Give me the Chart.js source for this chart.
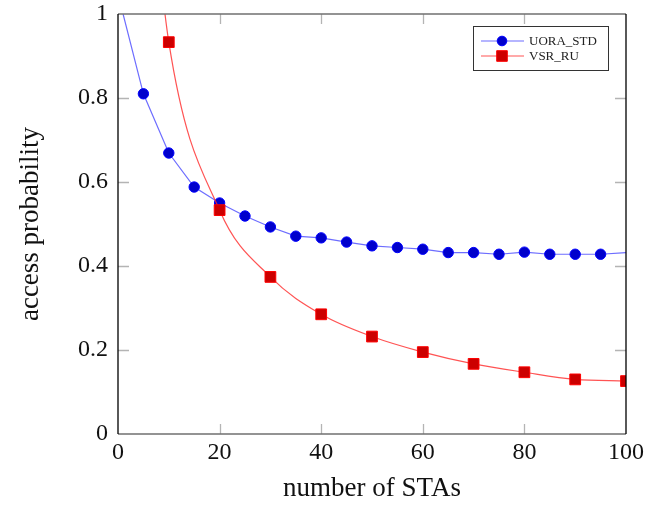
<!DOCTYPE html>
<html>
<head>
<meta charset="utf-8">
<script src="https://cdn.jsdelivr.net/npm/chart.js@4/dist/chart.umd.min.js"></script>
<style>
  html, body { margin: 0; padding: 0; background: #fff; }
  #wrap { width: 658px; height: 507px; }
</style>
</head>
<body>
<div id="wrap"><canvas id="chart" width="658" height="507"></canvas></div>
<script>
// Zugriffswahrscheinlichkeit über der Anzahl der STAs
const uoraX = [1, 5, 10, 15, 20, 25, 30, 35, 40, 45, 50, 55, 60, 65, 70, 75, 80, 85, 90, 95, 100];
const uoraY = [1.0, 0.81, 0.669, 0.588, 0.55, 0.519, 0.493, 0.471, 0.467, 0.457, 0.448, 0.444, 0.44, 0.432, 0.432, 0.428, 0.433, 0.428, 0.428, 0.428, 0.432];
const uoraUnmarked = [1, 100];

const vsrX = [5, 10, 20, 30, 40, 50, 60, 70, 80, 90, 100];
const vsrY = [1.5, 0.933, 0.533, 0.374, 0.285, 0.232, 0.195, 0.167, 0.147, 0.130, 0.126];
const vsrUnmarked = [5];

const xTicks = [0, 20, 40, 60, 80, 100];
const yTicks = [0, 0.2, 0.4, 0.6, 0.8, 1];

const serif = '"Liberation Serif", "Times New Roman", serif';

const toPoints = (xs, ys) => xs.map((x, i) => ({ x, y: ys[i] }));

// Marker nur an simulierten Punkten
const radiusFor = (hidden, r) => c => (hidden.includes(c.raw && c.raw.x) ? 0 : r);

// Ticks nach innen, wie bei pgfplots, plus Achsenrahmen
const frame = {
  id: 'frame',
  afterDatasetsDraw(chart) {
    const { ctx, chartArea: a, scales } = chart;
    ctx.save();
    ctx.strokeStyle = '#b4b4b4';
    ctx.lineWidth = 1.3;
    ctx.beginPath();
    xTicks.forEach(v => {
      if (v === 0 || v === 100) return;
      const px = Math.round(scales.x.getPixelForValue(v)) + 0.5;
      ctx.moveTo(px, a.bottom); ctx.lineTo(px, a.bottom - 10);
      ctx.moveTo(px, a.top); ctx.lineTo(px, a.top + 10);
    });
    yTicks.forEach(v => {
      if (v === 0 || v === 1) return;
      const py = Math.round(scales.y.getPixelForValue(v)) + 0.5;
      ctx.moveTo(a.left, py); ctx.lineTo(a.left + 11, py);
      ctx.moveTo(a.right, py); ctx.lineTo(a.right - 11, py);
    });
    ctx.stroke();

    ctx.lineWidth = 1.3;
    ctx.strokeStyle = '#707070';
    ctx.beginPath();
    ctx.moveTo(a.left, a.top); ctx.lineTo(a.right, a.top);
    ctx.moveTo(a.left, a.bottom); ctx.lineTo(a.right, a.bottom);
    ctx.stroke();
    ctx.strokeStyle = '#000';
    ctx.beginPath();
    ctx.moveTo(a.left, a.top); ctx.lineTo(a.left, a.bottom);
    ctx.moveTo(a.right, a.top); ctx.lineTo(a.right, a.bottom);
    ctx.stroke();
    ctx.restore();
  }
};

// Legende oben rechts im Plotbereich
const boxLegend = {
  id: 'boxLegend',
  afterDraw(chart) {
    const { ctx } = chart;
    const x0 = 473, y0 = 26, w = 135, h = 44;
    ctx.save();
    ctx.fillStyle = '#fff';
    ctx.fillRect(x0, y0, w, h);
    ctx.strokeStyle = '#333';
    ctx.lineWidth = 1;
    ctx.strokeRect(x0 + 0.5, y0 + 0.5, w, h);
    ctx.font = '13px ' + serif;
    ctx.textBaseline = 'middle';
    chart.data.datasets.forEach((ds, i) => {
      const y = y0 + 15 + i * 15;
      ctx.strokeStyle = ds.borderColor;
      ctx.lineWidth = ds.borderWidth;
      ctx.beginPath();
      ctx.moveTo(x0 + 8, y); ctx.lineTo(x0 + 51, y);
      ctx.stroke();
      ctx.fillStyle = ds.pointBackgroundColor;
      ctx.strokeStyle = ds.pointBorderColor;
      ctx.lineWidth = 1;
      ctx.beginPath();
      if (ds.pointStyle === 'circle') {
        ctx.arc(x0 + 29, y, 4.8, 0, Math.PI * 2);
      } else {
        ctx.rect(x0 + 29 - 5.3, y - 5.3, 10.6, 10.6);
      }
      ctx.fill();
      ctx.stroke();
      ctx.fillStyle = '#222';
      ctx.fillText(ds.label, x0 + 56, y + 1);
    });
    ctx.restore();
  }
};

new Chart(document.getElementById('chart'), {
  type: 'line',
  data: {
    datasets: [
      {
        label: 'UORA_STD',
        data: toPoints(uoraX, uoraY),
        borderColor: 'rgba(60,60,255,0.75)',
        borderWidth: 1.2,
        tension: 0,
        pointStyle: 'circle',
        pointRadius: radiusFor(uoraUnmarked, 5.2),
        pointBackgroundColor: '#0000cc',
        pointBorderColor: '#0000ff',
        pointBorderWidth: 1,
        order: 1
      },
      {
        label: 'VSR_RU',
        data: toPoints(vsrX, vsrY),
        borderColor: 'rgba(255,40,40,0.8)',
        borderWidth: 1.2,
        cubicInterpolationMode: 'monotone',
        pointStyle: 'rect',
        pointRadius: radiusFor(vsrUnmarked, 7.6),
        pointBackgroundColor: '#cc0000',
        pointBorderColor: '#ff0000',
        pointBorderWidth: 1,
        order: 0
      }
    ]
  },
  options: {
    responsive: false,
    animation: false,
    layout: { padding: { left: 0, right: 32, top: 14, bottom: 0 } },
    plugins: {
      legend: { display: false },
      tooltip: { enabled: false }
    },
    scales: {
      x: {
        type: 'linear',
        min: 0, max: 100,
        afterBuildTicks: s => { s.ticks = xTicks.map(v => ({ value: v })); },
        afterFit: s => { s.height = 73; s.paddingLeft = 0; s.paddingRight = 0; },
        grid: { display: false, drawTicks: false },
        border: { display: false },
        ticks: { color: '#111', font: { family: serif, size: 24 }, padding: 4, maxRotation: 0 },
        title: {
          display: true, text: 'number of STAs', color: '#111',
          font: { family: serif, size: 27 }, padding: { top: 0, bottom: 2 }
        }
      },
      y: {
        type: 'linear',
        min: 0, max: 1,
        afterBuildTicks: s => { s.ticks = yTicks.map(v => ({ value: v })); },
        afterFit: s => { s.width = 118; s.paddingTop = 0; s.paddingBottom = 0; },
        grid: { display: false, drawTicks: false },
        border: { display: false },
        ticks: {
          color: '#111', font: { family: serif, size: 24 }, padding: 10,
          callback: v => String(+v.toFixed(1))
        },
        title: {
          display: true, text: 'access probability', color: '#111',
          font: { family: serif, size: 27 }, padding: { top: 15, bottom: 0 }
        }
      }
    }
  },
  plugins: [frame, boxLegend]
});
</script>
</body>
</html>
